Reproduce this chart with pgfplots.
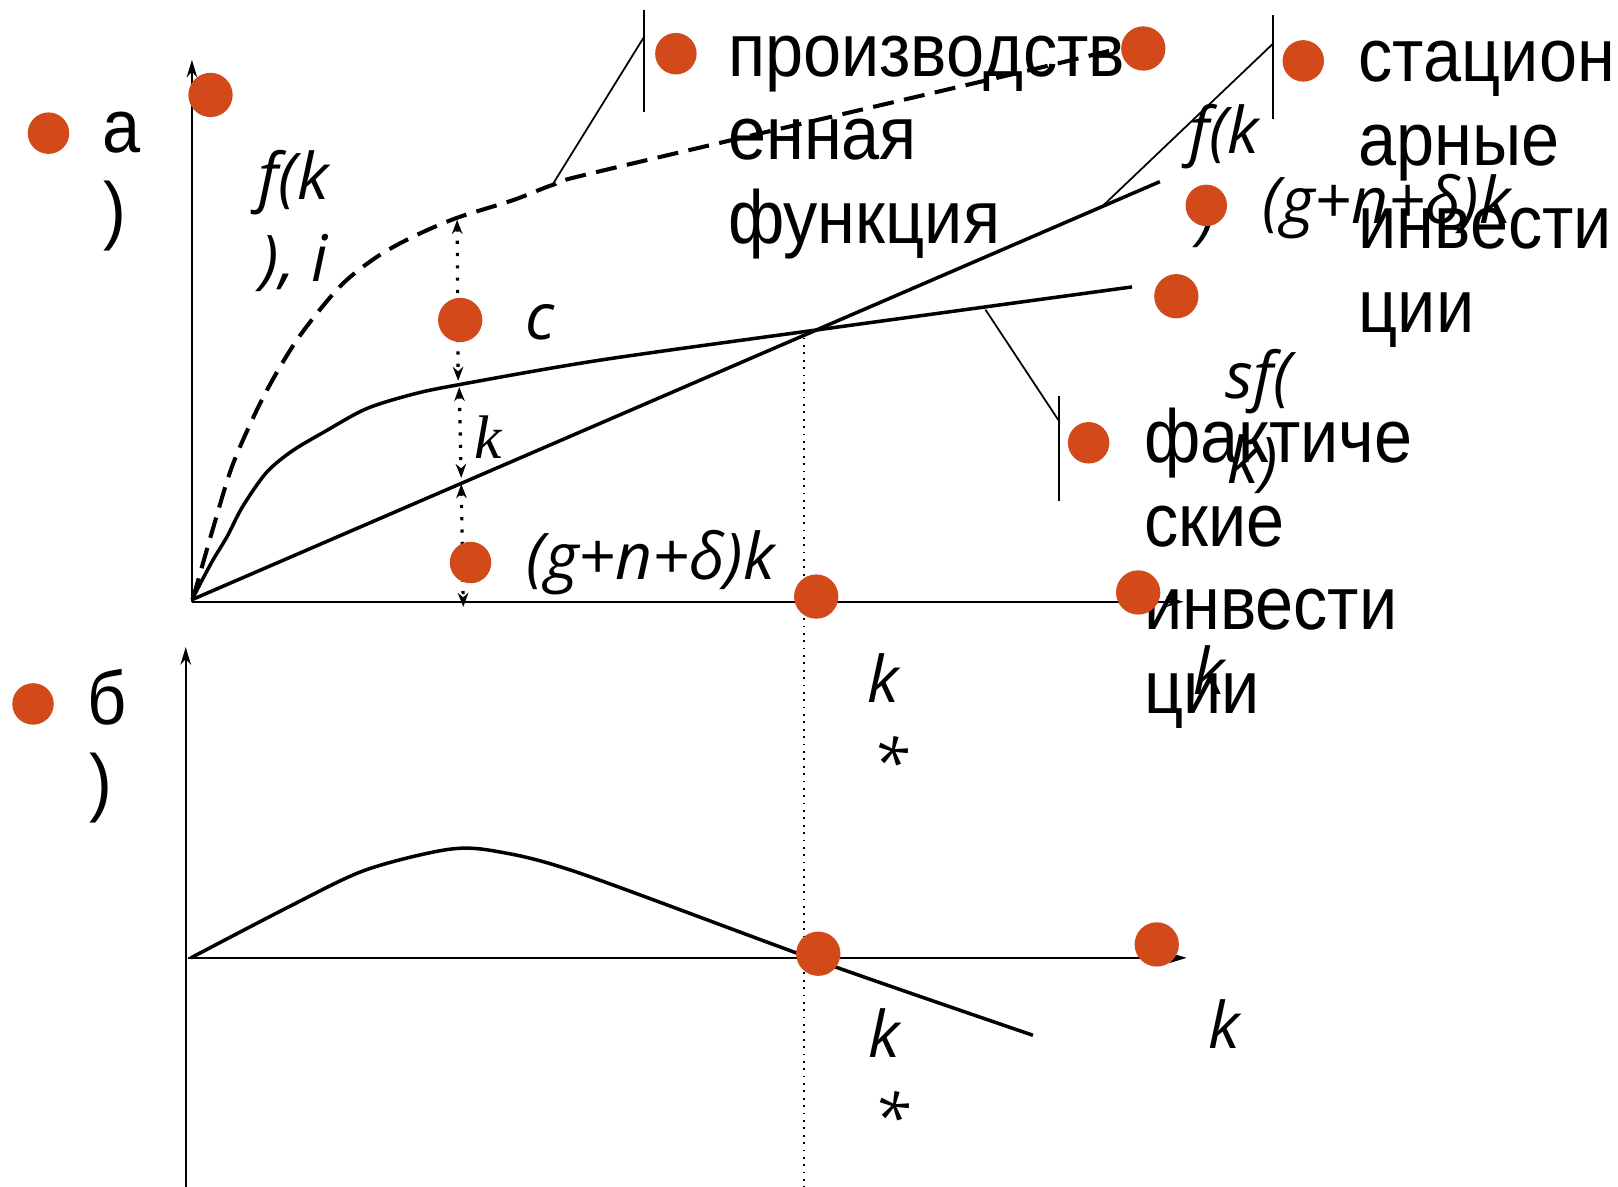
\documentclass[border=0pt]{standalone}
\usepackage{pgfplots}
\pgfplotsset{compat=1.18}
\usetikzlibrary{arrows.meta}
\usepackage{fontspec}
\setmainfont{Liberation Sans}
\newfontfamily\lab{Open Sans}
\newfontfamily\serf{Liberation Serif}
\definecolor{bullet}{RGB}{210,74,26}

% slide text (Cyrillic), squeezed a little like the original
\newcommand\ru[3]{\node[anchor=base west,inner sep=0pt,font=\fontsize{21.4}{24}\selectfont] at (axis cs:#1,#2) {\scalebox{0.91}[1]{#3}};}
% italic formula pieces
\newcommand\lb[3]{\node[anchor=base west,inner sep=0pt,font=\lab\itshape\fontsize{18.3}{20}\selectfont] at (axis cs:#1,#2) {#3};}

\begin{document}
\begin{tikzpicture}
\begin{axis}[
    scale only axis,
    width=16.18cm, height=11.87cm,
    xmin=0, xmax=1568, ymin=0, ymax=1150,
    y dir=reverse,
    hide axis,
    clip=false,
]

% axes of panel a) and b)
\draw[line width=0.6pt, -{Stealth[length=5pt,width=3pt]}] (axis cs:186,583) -- (axis cs:186,58);
\draw[line width=0.6pt, -{Stealth[length=5pt,width=3pt]}] (axis cs:186,583) -- (axis cs:1147,583);
\draw[line width=0.6pt, -{Stealth[length=5pt,width=3pt]}] (axis cs:180,1150) -- (axis cs:180,627);
\draw[line width=0.6pt, -{Stealth[length=5pt,width=3pt]}] (axis cs:182,928) -- (axis cs:1150,928);

% steady state k*
\draw[line width=0.5pt, dash pattern=on 0.5pt off 1.6pt] (axis cs:779,320) -- (axis cs:779,1150);

% callout lines
\draw[line width=0.5pt] (axis cs:536,178) -- (axis cs:624,36);
\draw[line width=0.5pt] (axis cs:624,10) -- (axis cs:624,109);
\draw[line width=0.5pt] (axis cs:1066,202) -- (axis cs:1234,42);
\draw[line width=0.5pt] (axis cs:1234,15) -- (axis cs:1234,115);
\draw[line width=0.5pt] (axis cs:955,300) -- (axis cs:1027,409);
\draw[line width=0.5pt] (axis cs:1026,384) -- (axis cs:1026,485);

% bullets
\addplot[only marks, mark=*, mark size=5.7pt, color=bullet] coordinates {
    (47,129) (655,52) (1263,59) (1169,199) (1055,429) (456,545) (32,682)
};
\addplot[only marks, mark=*, mark size=6.1pt, color=bullet] coordinates {
    (204,92) (1108,47) (446,310) (1140,287) (791,578) (1103,574) (793,924) (1121,915)
};

% production function f(k)
\addplot[mark=none, smooth, line width=1.15pt, dash pattern=on 6pt off 3pt] coordinates {
    (187,580) (207,510) (226,449) (255,385) (288,329) (329,278) (365,249)
    (401,229) (443,211) (497,194) (536,179) (581,166) (985,71) (1084,47)
};
% actual investment sf(k)
\addplot[mark=none, smooth, line width=1pt] coordinates {
    (186,581) (205,545) (220,520) (235,491) (258,458) (283,437) (315,418)
    (355,396) (400,382) (443,373) (581,349) (789,320) (1097,278)
};
% break-even investment (g+n+delta)k
\addplot[mark=none, line width=1pt] coordinates {(186,581) (1124,176)};

% panel b) curve
\addplot[mark=none, smooth, line width=1pt] coordinates {
    (185,928) (281,878) (354,843) (434,823) (482,825) (562,846)
    (796,932) (1001,1003)
};

% dotted distances
\draw[line width=0.9pt, dash pattern=on 0.9pt off 2.6pt,
    {Stealth[length=4pt,width=3pt]}-{Stealth[length=4pt,width=3pt]}] (axis cs:443,213) -- (axis cs:444,369);
\draw[line width=0.9pt, dash pattern=on 0.9pt off 2.6pt,
    {Stealth[length=4pt,width=3pt]}-{Stealth[length=4pt,width=3pt]}] (axis cs:445,375) -- (axis cs:447,463);
\draw[line width=0.9pt, dash pattern=on 0.9pt off 2.6pt,
    {Stealth[length=4pt,width=3pt]}-{Stealth[length=4pt,width=3pt]}] (axis cs:447,469) -- (axis cs:449,588);

% slide text
\ru{99}{148}{а}
\ru{100}{228}{)}
\ru{84}{702}{б}
\ru{86}{782}{)}
\ru{705}{74}{производств}
\ru{705}{155}{енная}
\ru{705}{236}{функция}
\ru{1316}{79}{стацион}
\ru{1316}{160}{арные}
\ru{1316}{241}{инвести}
\ru{1316}{322}{ции}
\ru{1108}{448}{фактиче}
\ru{1108}{529}{ские}
\ru{1108}{610}{инвести}
\ru{1108}{691}{ции}

% formula labels
\lb{250}{193}{f(k}
\lb{252}{273}{), i}
\lb{509}{329}{c}
\node[anchor=base west,inner sep=0pt,font=\serf\itshape\fontsize{17.5}{20}\selectfont] at (axis cs:459,444) {k};
\lb{510}{561}{(g+n+δ)k}
\lb{1152}{149}{f(k}
\lb{1160}{230}{)}
\lb{1223}{217}{(g+n+δ)k}
\lb{1187}{386}{sf(}
\lb{1189}{468}{k)}
\lb{1156}{673}{k}
\lb{840}{681}{k}
\lb{845}{761}{*}
\lb{841}{1025}{k}
\lb{846}{1105}{*}
\lb{1170}{1016}{k}

\end{axis}
\pgfresetboundingbox
\path (current axis.south west) rectangle (current axis.north east);
\end{tikzpicture}
\end{document}
